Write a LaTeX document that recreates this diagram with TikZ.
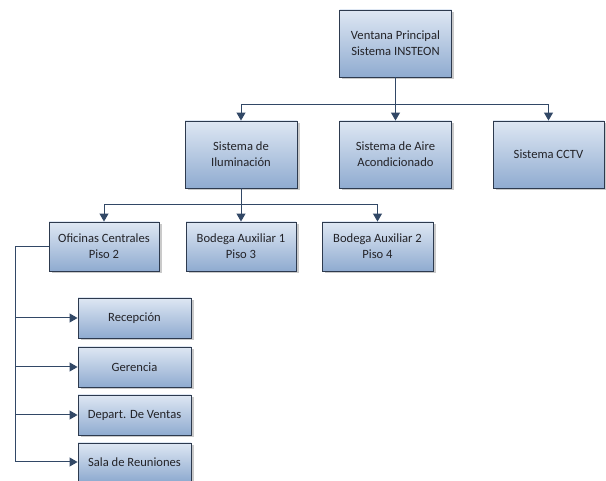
\documentclass[tikz,border=0pt]{standalone}
\usepackage{fontspec}
\setmainfont{Carlito}
\usetikzlibrary{arrows.meta,shadows}
\definecolor{boxtop}{RGB}{222,231,243}
\definecolor{boxbot}{RGB}{143,171,208}
\definecolor{boxline}{RGB}{45,58,78}
\definecolor{linec}{RGB}{50,72,102}
\definecolor{textc}{RGB}{35,35,40}
\tikzset{
  orgbox/.style={rectangle, draw=boxline, line width=0.9pt, top color=boxtop, bottom color=boxbot,
    align=center, text=textc, font=\fontsize{12.6}{16}\selectfont, inner sep=2pt,
    drop shadow={shadow xshift=2.5pt, shadow yshift=-2.5pt, opacity=0.35, fill=black!60}},
  bigbox/.style={orgbox, minimum width=112pt, minimum height=67pt},
  midbox/.style={orgbox, minimum width=111pt, minimum height=49pt},
  smallbox/.style={orgbox, minimum width=113pt, minimum height=40pt},
  conn/.style={draw=linec, line width=1pt},
  arr/.style={conn, -{Triangle[width=9pt,length=8pt]}}
}
\begin{document}
\begin{tikzpicture}[x=1pt,y=-1pt]
\useasboundingbox (0,0) rectangle (606,481);
\node[bigbox] (top) at (395.5,43.5) {Ventana Principal\\Sistema INSTEON};
\node[bigbox] (ilum) at (241,154.5) {Sistema de\\Iluminación};
\node[bigbox] (aire) at (395.5,154.5) {Sistema de Aire\\Acondicionado};
\node[bigbox, minimum width=111pt] (cctv) at (548.5,154.5) {Sistema CCTV};
\node[midbox, minimum width=110pt] (ofi) at (104,246.5) {Oficinas Centrales\\Piso 2};
\node[midbox, minimum width=110pt] (bod1) at (241,246.5) {Bodega Auxiliar 1\\Piso 3};
\node[midbox] (bod2) at (377.5,246.5) {Bodega Auxiliar 2\\Piso 4};
\node[smallbox] (rec) at (134.5,318) {Recepción};
\node[smallbox] (ger) at (134.5,367) {Gerencia};
\node[smallbox] (dep) at (134.5,415) {Depart. De Ventas};
\node[smallbox, minimum height=38pt] (sala) at (134.5,462) {Sala de Reuniones};
% top level connectors
\draw[conn] (top.south) -- (395.5,105) coordinate (j1);
\draw[arr] (j1) -| (ilum.north);
\draw[arr] (j1) -- (aire.north);
\draw[arr] (j1) -| (cctv.north);
% second level
\draw[conn] (ilum.south) -- (241,205) coordinate (j2);
\draw[arr] (j2) -| (ofi.north);
\draw[arr] (j2) -- (bod1.north);
\draw[arr] (j2) -| (bod2.north);
% left branch
\draw[conn] (ofi.west) -- (15,246.5) coordinate (j3);
\draw[arr] (j3) |- (rec.west);
\draw[arr] (j3) |- (ger.west);
\draw[arr] (j3) |- (dep.west);
\draw[arr] (j3) |- (sala.west);
\end{tikzpicture}
\end{document}
